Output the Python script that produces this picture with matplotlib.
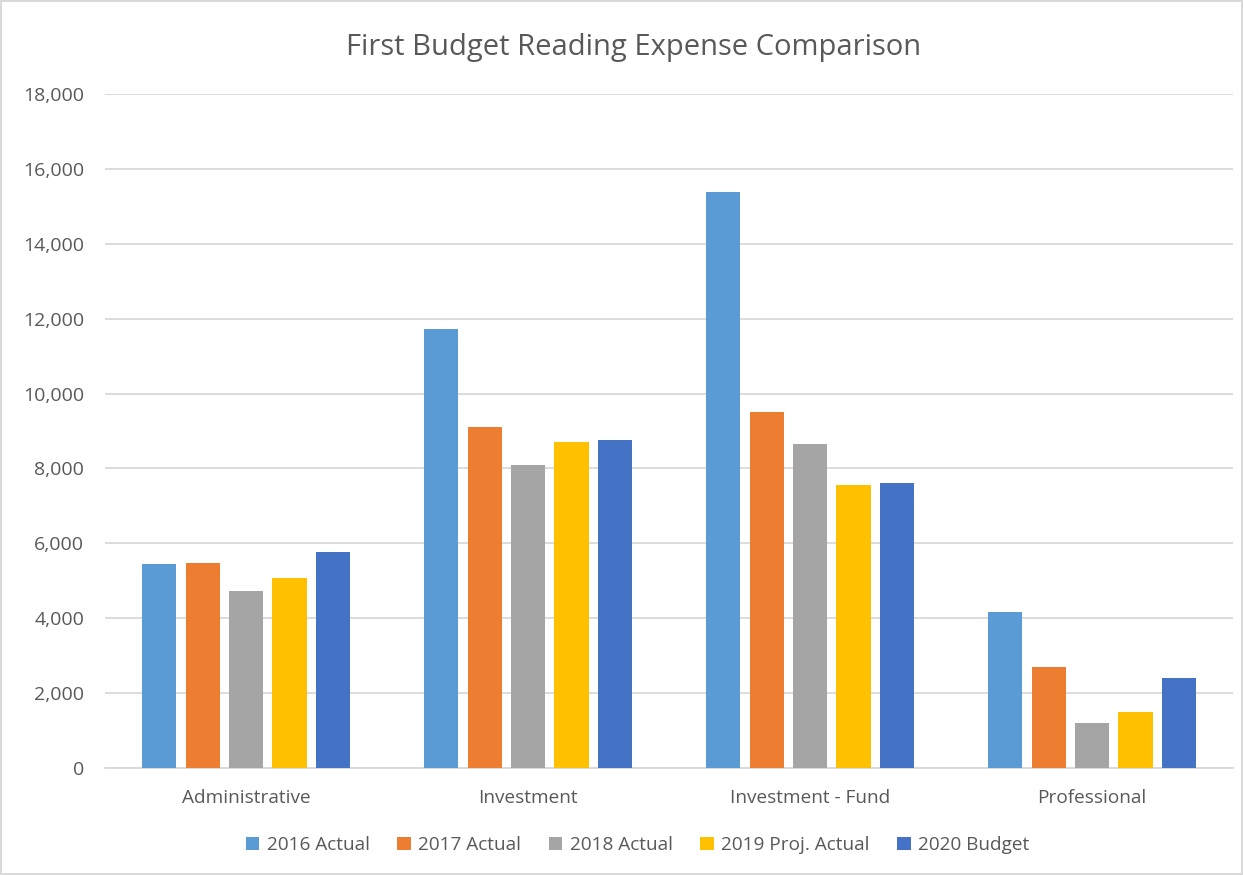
import matplotlib
matplotlib.use("Agg")
from matplotlib import pyplot as plt
import numpy as np

categorias = ['Administrative', 'Investment', 'Investment - Fund', 'Professional']
series = ['2016 Actual', '2017 Actual', '2018 Actual', '2019 Proj. Actual', '2020 Budget']
v2016 = [5443, 11731, 15387, 4161]
v2017 = [5462, 9094, 9505, 2710]
v2018 = [4717, 8081, 8656, 1194]
v2019 = [5075, 8718, 7562, 1508]
v2020 = [5766, 8763, 7608, 2414]
cores = ['#5B9BD5', '#ED7D31', '#A5A5A5', '#FFC000', '#4472C4']

plt.rcParams['font.family'] = ['Open Sans', 'DejaVu Sans']
texto = '#595959'

fig = plt.figure(figsize=(12.43, 8.75), dpi=100)
fig.patch.set_edgecolor('#D9D9D9')
fig.patch.set_linewidth(1.5)
ax = fig.add_axes([0.0845, 0.1223, 0.9075, 0.7703])

x = np.arange(len(categorias))
passo = 0.154
largura = 0.121
valores = [v2016, v2017, v2018, v2019, v2020]
for i, (nome, vals, cor) in enumerate(zip(series, valores, cores)):
    ax.bar(x + (i - 2) * passo, vals, width=largura, color=cor, label=nome, zorder=3)

ax.set_xlim(-0.5, 3.5)
ax.set_ylim(0, 18000)
ax.set_yticks(range(0, 18001, 2000))
ax.set_yticklabels([f'{v:,}' for v in range(0, 18001, 2000)])
ax.set_xticks(x)
ax.set_xticklabels(categorias)
ax.tick_params(axis='y', length=0, pad=15, labelsize=14, labelcolor=texto)
ax.tick_params(axis='x', length=0, pad=15, labelsize=13.7, labelcolor=texto)
ax.grid(axis='y', color='#D9D9D9', linewidth=1.3, zorder=0)
for lado in ['top', 'right', 'left']:
    ax.spines[lado].set_visible(False)
ax.spines['bottom'].set_color('#D9D9D9')
ax.spines['bottom'].set_linewidth(1.3)

fig.text(0.51, 0.946, 'First Budget Reading Expense Comparison', ha='center', va='center',
         fontsize=21, color=texto)

fig.legend(loc='center', bbox_to_anchor=(0.513, 0.034), ncol=5, frameon=False,
           fontsize=13.7, labelcolor=texto, handlelength=0.7, handleheight=0.7,
           handletextpad=0.4, columnspacing=1.45)

fig.savefig('out.png', dpi=100)
